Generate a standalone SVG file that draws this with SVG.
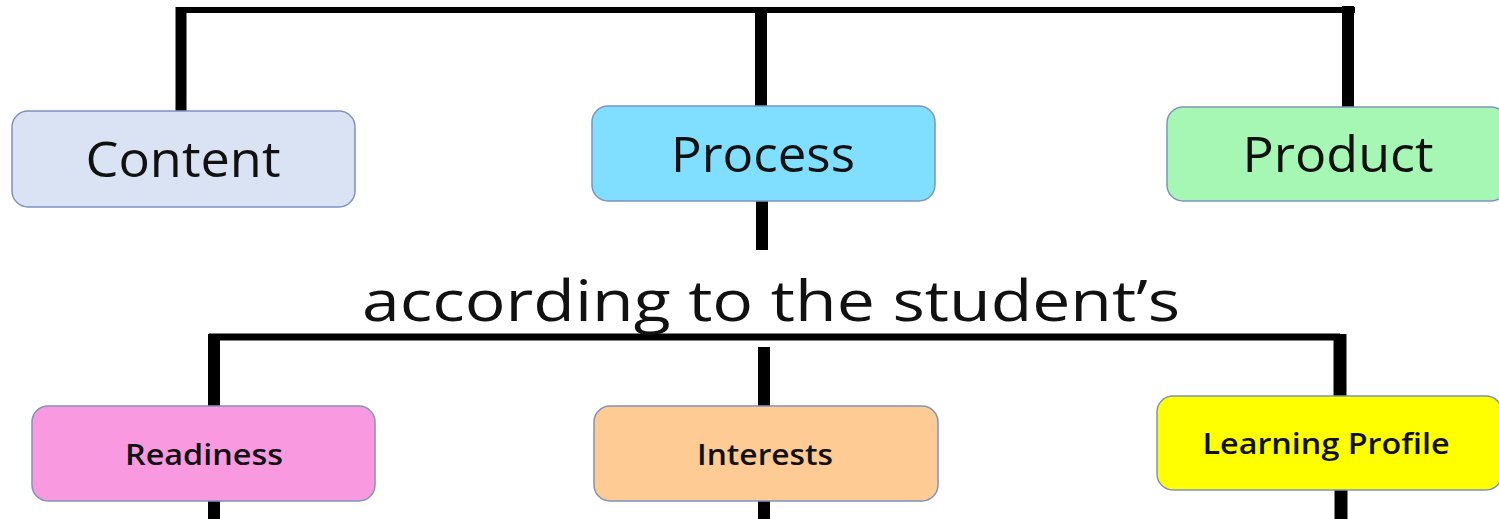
<svg xmlns="http://www.w3.org/2000/svg" width="1499" height="519" viewBox="0 0 1499 519">
<style>
.box{stroke:#7f93c0;stroke-width:1.5}
.big{font-family:"Open Sans","Liberation Sans",sans-serif;font-size:49px;font-weight:500;fill:#111;text-anchor:middle}
.small{font-family:"Open Sans","Liberation Sans",sans-serif;font-size:29px;font-weight:600;fill:#111;text-anchor:middle}
.mid{font-family:"Open Sans","Liberation Sans",sans-serif;font-size:57px;font-weight:500;fill:#111;text-anchor:middle}
.ln{stroke:#000;fill:none}
</style>
<rect width="1499" height="519" fill="#fff"/>
<g id="connectors">
<line class="ln" x1="178" y1="10" x2="1355" y2="10" stroke-width="6"/>
<line class="ln" x1="181" y1="7" x2="181" y2="112" stroke-width="11"/>
<line class="ln" x1="761" y1="10" x2="761" y2="107" stroke-width="12"/>
<line class="ln" x1="1348" y1="6" x2="1348" y2="108" stroke-width="12"/>
<line class="ln" x1="762" y1="201" x2="762" y2="250" stroke-width="12"/>
<line class="ln" x1="209" y1="337" x2="1340" y2="337" stroke-width="7"/>
<line class="ln" x1="214" y1="334" x2="214" y2="407" stroke-width="12"/>
<line class="ln" x1="764" y1="347" x2="764" y2="407" stroke-width="12"/>
<line class="ln" x1="1340" y1="334" x2="1340" y2="397" stroke-width="13"/>
<line class="ln" x1="214" y1="501" x2="214" y2="519" stroke-width="12"/>
<line class="ln" x1="764" y1="500" x2="764" y2="519" stroke-width="12"/>
<line class="ln" x1="1341" y1="490" x2="1341" y2="519" stroke-width="13"/>
</g>
<g id="content"><rect class="box" x="12" y="111" width="343" height="96" rx="16" fill="#dae3f3"/><text class="big" x="183" y="177" textLength="195" lengthAdjust="spacingAndGlyphs">Content</text></g>
<g id="process"><rect class="box" x="592" y="106" width="343" height="95" rx="16" fill="#80dfff"/><text class="big" x="763" y="172" textLength="184" lengthAdjust="spacingAndGlyphs">Process</text></g>
<g id="product"><rect class="box" x="1167" y="107" width="340" height="94" rx="16" fill="#a6f7b4"/><text class="big" x="1338" y="172" textLength="191" lengthAdjust="spacingAndGlyphs">Product</text></g>
<g id="label"><text class="mid" x="771" y="321" textLength="818" lengthAdjust="spacingAndGlyphs">according to the student’s</text></g>
<g id="readiness"><rect class="box" x="32" y="406" width="343" height="95" rx="16" fill="#f99ae0"/><text class="small" x="204" y="465" textLength="158" lengthAdjust="spacingAndGlyphs">Readiness</text></g>
<g id="interests"><rect class="box" x="594" y="406" width="344" height="95" rx="16" fill="#fecb95"/><text class="small" x="765" y="465" textLength="136" lengthAdjust="spacingAndGlyphs">Interests</text></g>
<g id="learning-profile"><rect class="box" x="1157" y="396" width="345" height="94" rx="16" fill="#ffff00"/><text class="small" x="1326" y="454" textLength="247" lengthAdjust="spacingAndGlyphs">Learning Profile</text></g>
</svg>
